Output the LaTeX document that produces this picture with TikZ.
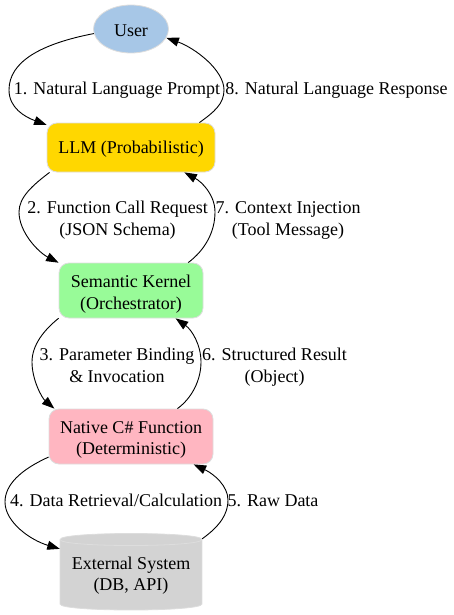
\documentclass[tikz,border=0pt]{standalone}
\usepackage{fontspec}
\setmainfont{Liberation Serif}
\usetikzlibrary{arrows.meta,shapes.geometric}
\definecolor{userblue}{HTML}{A7C7E7}
\definecolor{llmgold}{HTML}{FFD700}
\definecolor{skgreen}{HTML}{98FB98}
\definecolor{nativepink}{HTML}{FFB6C1}
\definecolor{extgrey}{HTML}{D3D3D3}
\definecolor{rimgrey}{HTML}{DDDDDD}
\begin{document}
\begin{tikzpicture}[x=1pt,y=-1pt,
  font=\fontsize{18}{21.5}\selectfont,
  box/.style={rectangle, rounded corners=10pt, draw=rimgrey, line width=0.8pt, inner sep=0pt},
  intext/.style={align=center, inner sep=0pt},
  conn/.style={-{Triangle[length=12.5pt,width=9pt]}, line width=0.9pt},
  lbl/.style={anchor=base, inner sep=0pt, align=center}]
\useasboundingbox (0,0) rectangle (454,615);
% nodes
\node[ellipse, draw=rimgrey, line width=0.8pt, fill=userblue, minimum width=75pt, minimum height=48pt, inner sep=0pt,
  label={[intext, yshift=-2pt]center:User}] (user) at (131,29) {};
\node[box, fill=llmgold, minimum width=168pt, minimum height=49pt,
  label={[intext, yshift=-2pt]center:LLM (Probabilistic)}] (llm) at (131,147.5) {};
\node[box, fill=skgreen, minimum width=144pt, minimum height=55pt,
  label={[intext, yshift=-3.5pt]center:Semantic Kernel\\(Orchestrator)}] (sk) at (131,290.5) {};
\node[box, fill=nativepink, minimum width=164pt, minimum height=55pt,
  label={[intext, yshift=-3.5pt]center:Native C\# Function\\(Deterministic)}] (native) at (131,436.5) {};
% cylinder
\fill[extgrey] (60,539.5) rectangle (202,604);
\fill[extgrey] (60,604) .. controls (60,612) and (202,612) .. (202,604) -- cycle;
\draw[rimgrey, line width=0.8pt, fill=extgrey] (60,539.5) .. controls (60,531.5) and (202,531.5) .. (202,539.5) .. controls (202,547.5) and (60,547.5) .. (60,539.5);
\draw[rimgrey, line width=0.8pt] (60,539.5) -- (60,604) .. controls (60,612) and (202,612) .. (202,604) -- (202,539.5);
\node[minimum width=142pt, minimum height=76pt, inner sep=0pt,
  label={[intext, yshift=-3.5pt]center:External System\\(DB, API)}] (ext) at (131,572) {};
% connectors
\draw[conn] (user.187) .. controls (40,44) and (9,62) .. (9,90) .. controls (9,108) and (25,117) .. (llm.165);
\draw[conn] (llm.20) .. controls (214,112) and (224,104) .. (224,90) .. controls (224,70) and (195,48) .. (user.-14);
\draw[conn] (llm.197) .. controls (33,185) and (19,197) .. (19,212) .. controls (19,232) and (38,252) .. (sk.159.8);
\draw[conn] (sk.26) .. controls (205,250) and (215,232) .. (215,212) .. controls (215,195) and (202,182) .. (llm.335.6);
\draw[conn] (sk.201.4) .. controls (44,330) and (32,345) .. (32,362) .. controls (32,380) and (42,398) .. (native.160.3);
\draw[conn] (native.31) .. controls (192,398) and (201,380) .. (201,362) .. controls (201,345) and (192,330) .. (sk.328);
\draw[conn] (native.194.5) .. controls (20,470) and (5,485) .. (5,502) .. controls (5,522) and (30,540) .. (ext.162);
\draw[conn] (ext.25.6) .. controls (220,526) and (228,514) .. (228,500) .. controls (228,486) and (214,474) .. (native.336.8);
% labels
\node[lbl] (l1) at (117,95) {1. Natural Language Prompt};
\node[lbl] (l8) at (336.5,95) {8. Natural Language Response};
\node[lbl] (l2) at (117.5,235) {2. Function Call Request\\(JSON Schema)};
\node[lbl] (l7) at (288,235) {7. Context Injection\\(Tool Message)};
\node[lbl] (l3) at (117,382) {3. Parameter Binding\\\& Invocation};
\node[lbl] (l6) at (274.5,382) {6. Structured Result\\(Object)};
\node[lbl] (l4) at (116,506) {4. Data Retrieval/Calculation};
\node[lbl] (l5) at (273,506) {5. Raw Data};
\end{tikzpicture}
\end{document}
